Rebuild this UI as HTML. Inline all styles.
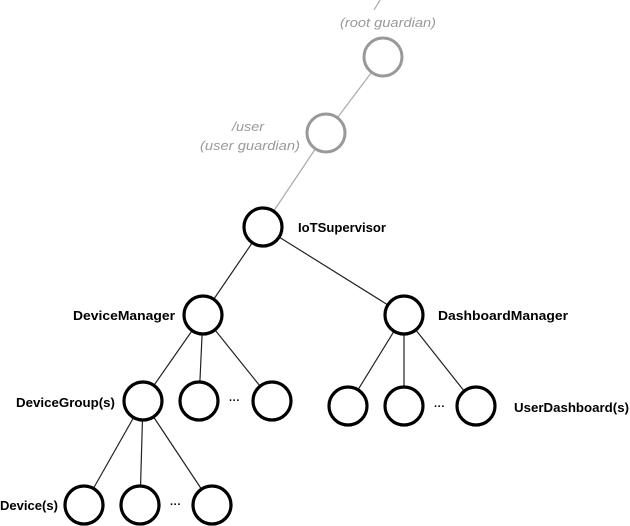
<!DOCTYPE html>
<html><head><style>html,body{margin:0;padding:0;background:#fff}svg{display:block}</style></head>
<body>
<svg width="630" height="526" viewBox="0 0 630 526" xmlns="http://www.w3.org/2000/svg" font-family="Liberation Sans, sans-serif">
<g stroke="#aaa" stroke-width="1.2">
<line x1="380" y1="0" x2="374" y2="10"/>
<line x1="383" y1="57" x2="326" y2="133"/>
<line x1="326" y1="133" x2="263" y2="227"/>
</g>
<g stroke="#222" stroke-width="1.2">
<line x1="263" y1="227" x2="203" y2="315"/>
<line x1="263" y1="227" x2="404" y2="315"/>
<line x1="203" y1="315" x2="143" y2="401"/>
<line x1="203" y1="315" x2="199" y2="401"/>
<line x1="203" y1="315" x2="272" y2="401"/>
<line x1="404" y1="315" x2="348" y2="406"/>
<line x1="404" y1="315" x2="404" y2="406"/>
<line x1="404" y1="315" x2="476" y2="406"/>
<line x1="143" y1="401" x2="84" y2="505"/>
<line x1="143" y1="401" x2="140" y2="505"/>
<line x1="143" y1="401" x2="212" y2="505"/>
</g>
<g fill="#fff" stroke="#999" stroke-width="3">
<circle cx="383" cy="57" r="19"/>
<circle cx="326" cy="133" r="19"/>
</g>
<g fill="#fff" stroke="#000" stroke-width="3.2">
<circle cx="263" cy="227" r="19"/>
<circle cx="203" cy="315" r="19"/>
<circle cx="404" cy="315" r="19"/>
<circle cx="143" cy="401" r="19"/>
<circle cx="199" cy="401" r="19"/>
<circle cx="272" cy="401" r="19"/>
<circle cx="348" cy="406" r="19"/>
<circle cx="404" cy="406" r="19"/>
<circle cx="476" cy="406" r="19"/>
<circle cx="84" cy="505" r="19"/>
<circle cx="140" cy="505" r="19"/>
<circle cx="212" cy="505" r="19"/>
</g>
<g fill="#999" font-style="italic" font-size="13">
<text x="340" y="27" textLength="96" lengthAdjust="spacingAndGlyphs">(root guardian)</text>
<text x="232" y="131" textLength="32" lengthAdjust="spacingAndGlyphs">/user</text>
<text x="200" y="150" textLength="100" lengthAdjust="spacingAndGlyphs">(user guardian)</text>
</g>
<g fill="#000" font-weight="bold" font-size="13">
<text x="298" y="232" textLength="88" lengthAdjust="spacingAndGlyphs">IoTSupervisor</text>
<text x="73" y="320" textLength="102" lengthAdjust="spacingAndGlyphs">DeviceManager</text>
<text x="438" y="320" textLength="130" lengthAdjust="spacingAndGlyphs">DashboardManager</text>
<text x="16" y="407" textLength="99" lengthAdjust="spacingAndGlyphs">DeviceGroup(s)</text>
<text x="514" y="412" textLength="115" lengthAdjust="spacingAndGlyphs">UserDashboard(s)</text>
<text x="0" y="510" textLength="58" lengthAdjust="spacingAndGlyphs">Device(s)</text>
<text x="229" y="404" font-size="11">···</text>
<text x="434" y="410" font-size="11">···</text>
<text x="170" y="508" font-size="11">···</text>
</g>
</svg>
</body></html>
